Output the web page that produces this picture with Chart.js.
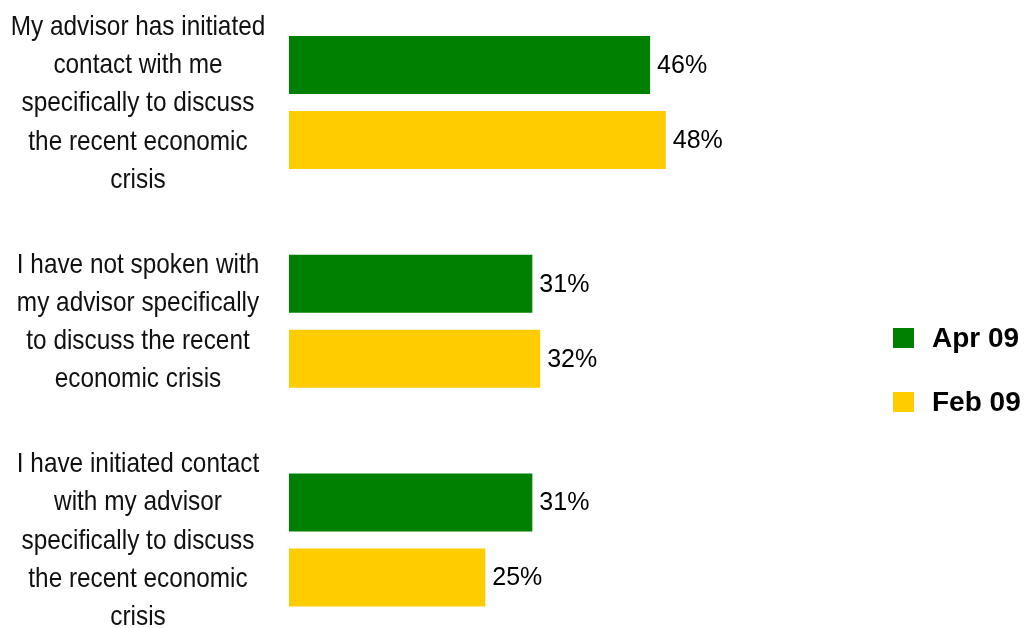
<!DOCTYPE html>
<html>
<head>
<meta charset="utf-8">
<script src="https://cdn.jsdelivr.net/npm/chart.js@4.4.0/dist/chart.umd.min.js"></script>
<style>
  html, body { margin: 0; padding: 0; background: #fff; }
  #wrap { width: 1029px; height: 628px; }
</style>
</head>
<body>
<div id="wrap"><canvas id="advisorChart"></canvas></div>
<script>
// categories (one array of lines per label)
const categories = [
    ['My advisor has initiated', 'contact with me', 'specifically to discuss', 'the recent economic', 'crisis'],
    ['I have not spoken with', 'my advisor specifically', 'to discuss the recent', 'economic crisis'],
    ['I have initiated contact', 'with my advisor', 'specifically to discuss', 'the recent economic', 'crisis']
];
const seriesNames = ['Apr 09', 'Feb 09'];
const apr09 = [46, 31, 31];
const feb09 = [48, 32, 25];
const seriesColors = ['#008000', '#FFCC00'];

// libellés des catégories, centrés, police un peu condensée
const categoryLabels = {
    id: 'categoryLabels',
    afterDraw(chart) {
        const ctx = chart.ctx;
        const yScale = chart.scales.y;
        const lineH = 38.3;
        ctx.save();
        ctx.fillStyle = '#111';
        ctx.font = '28px "Liberation Sans", Arial, sans-serif';
        ctx.textAlign = 'center';
        ctx.textBaseline = 'middle';
        categories.forEach((lines, i) => {
            const yc = yScale.getPixelForValue(i) + 1;
            const top = yc - (lines.length - 1) * lineH / 2;
            lines.forEach((line, j) => {
                ctx.save();
                ctx.translate(138, top + j * lineH);
                ctx.scale(0.87, 1);
                ctx.fillText(line, 0, 0);
                ctx.restore();
            });
        });
        ctx.restore();
    }
};

// valeurs au bout des barres
const valueLabels = {
    id: 'valueLabels',
    afterDatasetsDraw(chart) {
        const ctx = chart.ctx;
        ctx.save();
        ctx.fillStyle = '#000';
        ctx.font = '25px "Liberation Sans", Arial, sans-serif';
        ctx.textAlign = 'left';
        ctx.textBaseline = 'middle';
        chart.data.datasets.forEach((ds, d) => {
            chart.getDatasetMeta(d).data.forEach((bar, i) => {
                ctx.fillText(ds.data[i] + '%', bar.x + 7, bar.y + 1);
            });
        });
        ctx.restore();
    }
};

// légende à droite
const sideLegend = {
    id: 'sideLegend',
    afterDraw(chart) {
        const ctx = chart.ctx;
        ctx.save();
        ctx.font = 'bold 28px "Liberation Sans", Arial, sans-serif';
        ctx.textBaseline = 'middle';
        ctx.textAlign = 'left';
        chart.data.datasets.forEach((ds, d) => {
            const yc = 338 + d * 64;
            ctx.fillStyle = ds.backgroundColor;
            ctx.fillRect(893, yc - 10, 21, 20);
            ctx.fillStyle = '#000';
            ctx.fillText(ds.label, 932, yc + 1);
        });
        ctx.restore();
    }
};

const ctx = document.getElementById('advisorChart').getContext('2d');
new Chart(ctx, {
    type: 'bar',
    data: {
        labels: categories,
        datasets: [
            {
                label: seriesNames[0],
                data: apr09,
                backgroundColor: seriesColors[0],
                borderWidth: 0
            },
            {
                label: seriesNames[1],
                data: feb09,
                backgroundColor: seriesColors[1],
                borderWidth: 0
            }
        ]
    },
    options: {
        indexAxis: 'y',
        responsive: true,
        maintainAspectRatio: false,
        animation: false,
        categoryPercentage: 0.6857,
        barPercentage: 0.7733,
        clip: false,
        layout: {
            padding: { left: 289, right: 269, top: 102.5, bottom: 88 }
        },
        scales: {
            x: { display: false, min: 0, max: 60 },
            y: { display: false, offset: false }
        },
        plugins: {
            legend: { display: false },
            tooltip: { enabled: false }
        }
    },
    plugins: [categoryLabels, valueLabels, sideLegend]
});
</script>
</body>
</html>
